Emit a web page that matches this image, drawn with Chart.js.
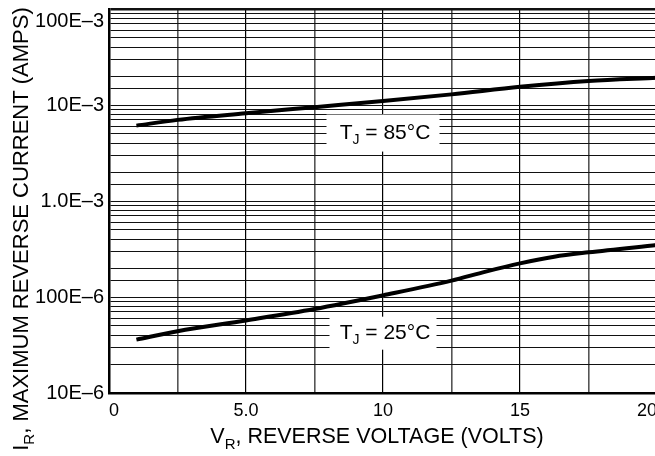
<!DOCTYPE html>
<html><head><meta charset="utf-8">
<script src="https://cdn.jsdelivr.net/npm/chart.js@4.4.1/dist/chart.umd.min.js"></script>
<style>html,body{margin:0;padding:0;overflow:hidden;background:#fff}
#wrap{position:relative;width:657px;height:456px}</style>
</head><body><div id="wrap"><canvas id="c"></canvas></div>
<script>
// ---- data ----
const voltage85 = [1, 2.5, 5, 7.5, 10, 12.5, 15, 17.5, 20];
const current85 = [6.1e-3, 7.0e-3, 8.2e-3, 9.5e-3, 11.0e-3, 12.9e-3, 15.5e-3, 17.8e-3, 19.2e-3];
const voltage25 = [1, 2.5, 5, 7.5, 10, 12.5, 13.75, 15, 16.25, 17.5, 20];
const current25 = [36e-6, 44e-6, 57e-6, 75e-6, 104e-6, 148e-6, 184e-6, 224e-6, 263e-6, 292e-6, 348e-6];
const xTickValues = [0, 5, 10, 15, 20];
const xTickLabels = ['0', '5.0', '10', '15', '20'];
const yTickValues = [1e-5, 1e-4, 1e-3, 1e-2, 1e-1];
const yTickLabels = ['10E–6', '100E–6', '1.0E–3', '10E–3', '100E–3'];
const seriesNames = ['85°C', '25°C'];

const FONT = '"Liberation Sans", Arial, Helvetica, sans-serif';
Chart.defaults.font.family = FONT;
Chart.defaults.color = '#000';

function toXY(xs, ys) { return xs.map((x, i) => ({x: x, y: ys[i]})); }

function drawRich(ctx, parts, x, y, size, subSize, subDrop) {
  let w = 0;
  const ms = parts.map(p => { ctx.font = (p.sub ? subSize : size) + 'px ' + FONT; const m = ctx.measureText(p.t).width; w += m; return m; });
  let cx = x - w / 2;
  ctx.textAlign = 'left'; ctx.textBaseline = 'alphabetic'; ctx.fillStyle = '#000';
  parts.forEach((p, i) => { ctx.font = (p.sub ? subSize : size) + 'px ' + FONT; ctx.fillText(p.t, cx, y + (p.sub ? subDrop : 0)); cx += ms[i]; });
}

const decorPlugin = {
  id: 'decor',
  afterDraw(chart, args, opts) {
    const ctx = chart.ctx, xs = chart.scales.x, ys = chart.scales.y;
    ctx.save();
    opts.labels.forEach(l => {
      const px = xs.getPixelForValue(l.x), py = ys.getPixelForValue(l.y);
      ctx.fillStyle = '#fff';
      ctx.fillRect(px - l.w / 2, py - l.h / 2, l.w, l.h);
      drawRich(ctx, [{t: 'T'}, {t: 'J', sub: true}, {t: ' = ' + l.text}], px + 2, py + 6, 21, 14, 5);
    });
    drawRich(ctx, [{t: 'V'}, {t: 'R', sub: true}, {t: ', REVERSE VOLTAGE (VOLTS)'}], 377, 443, 21.5, 15, 6);
    ctx.save();
    ctx.translate(28, 229);
    ctx.rotate(-Math.PI / 2);
    drawRich(ctx, [{t: 'I'}, {t: 'R', sub: true}, {t: ', MAXIMUM REVERSE CURRENT (AMPS)'}], 0, 0, 22, 15, 6);
    ctx.restore();
    ctx.restore();
  }
};

function isTick(v, list) { return list.findIndex(t => Math.abs(Math.log10(v) - Math.log10(t)) < 1e-6); }

new Chart(document.getElementById('c'), {
  type: 'line',
  data: {
    datasets: [
      {label: seriesNames[0], data: toXY(voltage85, current85)},
      {label: seriesNames[1], data: toXY(voltage25, current25)}
    ]
  },
  options: {
    responsive: true, maintainAspectRatio: false, animation: false,
    layout: {padding: {top: 9, left: 0, right: 0, bottom: 0}},
    elements: {
      line: {borderColor: '#000', borderWidth: 4, cubicInterpolationMode: 'monotone', fill: false, borderCapStyle: 'butt'},
      point: {radius: 0, hoverRadius: 0}
    },
    plugins: {
      legend: {display: false}, tooltip: {enabled: false},
      decor: {labels: [
        {x: 10, y: 5.1e-3, w: 113, h: 37, text: seriesNames[0]},
        {x: 10, y: 4.2e-5, w: 107, h: 33, text: seriesNames[1]}
      ]}
    },
    scales: {
      x: {
        type: 'linear', min: 0, max: 20,
        border: {display: true, color: '#000', width: 2.5},
        grid: {
          drawTicks: false,
          color: c => (c.tick && c.tick.value % 5 === 0) ? '#000' : '#555',
          lineWidth: c => (c.tick && c.tick.value % 5 === 0) ? 1.2 : 1.6
        },
        ticks: {
          stepSize: 2.5, autoSkip: false, maxRotation: 0, align: 'inner', padding: 7,
          font: {size: 18},
          callback: v => { const i = xTickValues.indexOf(v); return i >= 0 ? xTickLabels[i] : ''; }
        },
        afterFit: s => { s.height = 63; s.paddingLeft = 0; s.paddingRight = 0; }
      },
      y: {
        type: 'logarithmic', min: 1e-5, max: 1e-1,
        border: {display: true, color: '#000', width: 2.5},
        grid: {
          drawTicks: false, color: '#111',
          lineWidth: c => (c.tick && Math.abs(c.tick.value - 0.1) < 1e-9) ? 2.5 : 1
        },
        ticks: {
          autoSkip: false, padding: 5, font: {size: 20},
          callback: v => {
            const i = isTick(v, yTickValues);
            if (i < 0) return '';
            return i === yTickValues.length - 1 ? ['', yTickLabels[i]] : yTickLabels[i];
          }
        },
        afterFit: s => { s.width = 109; s.paddingTop = 0; s.paddingBottom = 0; }
      }
    }
  },
  plugins: [decorPlugin]
});
</script>
</body></html>
